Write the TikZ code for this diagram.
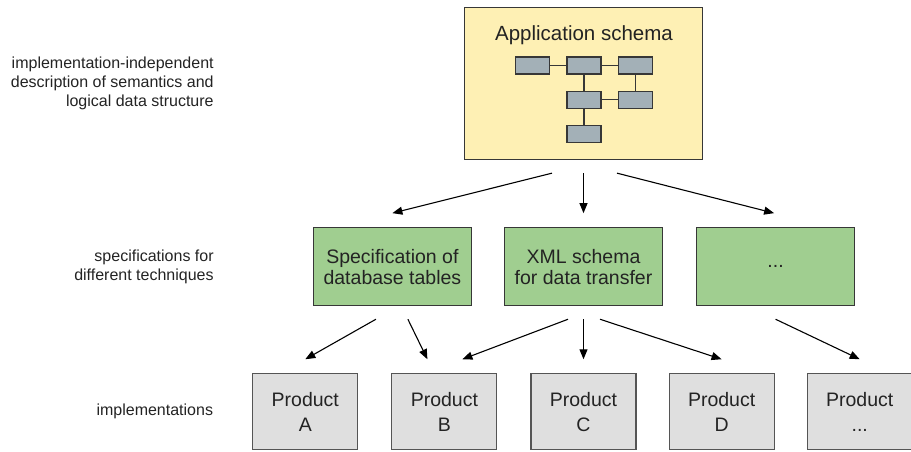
\documentclass[tikz,border=0pt]{standalone}
\usepackage{fontspec}
\setmainfont{Liberation Sans}
\usetikzlibrary{positioning, arrows.meta}
\definecolor{schemayellow}{RGB}{254,240,180}
\definecolor{specgreen}{RGB}{160,206,144}
\definecolor{prodgray}{RGB}{223,223,223}
\definecolor{tblblue}{RGB}{163,176,183}
\definecolor{edgegray}{RGB}{55,55,55}
\definecolor{txtgray}{RGB}{35,35,35}
\tikzset{
    appbox/.style={draw=edgegray, line width=1.3pt, fill=schemayellow,
      minimum width=238pt, minimum height=152pt, inner sep=0pt},
    specbox/.style={draw=edgegray, line width=1.1pt, fill=specgreen,
      minimum width=158pt, minimum height=78pt, inner sep=0pt, align=center,
      text=txtgray, font=\fontsize{19.5}{21}\selectfont},
    prodbox/.style={draw=edgegray!85, line width=1.1pt, fill=prodgray,
      minimum width=105pt, minimum height=76pt, inner sep=0pt, align=center,
      text=txtgray, font=\fontsize{19.5}{25}\selectfont},
    tbl/.style={draw=edgegray, line width=1.1pt, fill=tblblue,
      minimum width=34pt, minimum height=17pt, inner sep=0pt},
    lbl/.style={align=right, inner sep=0pt, text=txtgray,
      font=\fontsize{16}{19}\selectfont},
    conn/.style={-{Triangle[length=10pt,width=8pt]}, line width=1.1pt},
}

\begin{document}
\begin{tikzpicture}[x=1pt, y=-1pt]
    \useasboundingbox (0,0) rectangle (911,452);

    % schema on top
    \node[appbox] (app) at (583.5,83.5) {};
    \node[anchor=base, text=txtgray, font=\fontsize{20.5}{24}\selectfont] (title) at (584,40.5) {Application schema};

    \node[tbl] (t2) at (584,65.5) {};
    \node[tbl, left=16pt of t2] (t1) {};
    \node[tbl, right=16pt of t2] (t3) {};
    \node[tbl, below=16pt of t2] (t4) {};
    \node[tbl, right=16pt of t4] (t5) {};
    \node[tbl, below=16pt of t4] (t6) {};

    \draw[line width=1.1pt, edgegray] (t1) -- (t2) (t2) -- (t3) (t2) -- (t4)
      (t3) -- (t5) (t4) -- (t5) (t4) -- (t6);

    % specifications
    \node[specbox, below=67pt of app] (xml) {XML schema\\for data transfer};
    \node[specbox, left=32pt of xml] (dbspec) {Specification of\\database tables};
    \node[specbox, right=33pt of xml] (other) {...};

    % implementations
    \node[prodbox, below=67pt of xml] (prodC) {Product\\C};
    \node[prodbox, left=33pt of prodC] (prodB) {Product\\B};
    \node[prodbox, left=33pt of prodB] (prodA) {Product\\A};
    \node[prodbox, right=32pt of prodC] (prodD) {Product\\D};
    \node[prodbox, right=32pt of prodD] (prodE) {Product\\...};

    % level labels
    \node[lbl, left=250pt of app] (lblapp) {implementation-independent\\description of semantics and\\logical data structure};
    \node[lbl, left=99pt of dbspec] (lblspec) {specifications for\\different techniques};
    \node[lbl, left=39pt of prodA] (lblprod) {implementations};

    \draw[conn] ([xshift=-31.5pt,yshift=-13pt]app.south) -- ([yshift=14pt]dbspec.north);
    \draw[conn] ([yshift=-13pt]app.south) -- ([yshift=14pt]xml.north);
    \draw[conn] ([xshift=33.5pt,yshift=-13pt]app.south) -- ([xshift=-1.5pt,yshift=14pt]other.north);

    \draw[conn] ([xshift=-16.5pt,yshift=-13pt]dbspec.south) -- ([yshift=14pt]prodA.north);
    \draw[conn] ([xshift=15.5pt,yshift=-13pt]dbspec.south) -- ([xshift=-17pt,yshift=14pt]prodB.north);
    \draw[conn] ([xshift=-15.5pt,yshift=-13pt]xml.south) -- ([xshift=18pt,yshift=14pt]prodB.north);
    \draw[conn] ([yshift=-13pt]xml.south) -- ([yshift=14pt]prodC.north);
    \draw[conn] ([xshift=16.5pt,yshift=-13pt]xml.south) -- ([yshift=14pt]prodD.north);
    \draw[conn] ([yshift=-13pt]other.south) -- ([yshift=14pt]prodE.north);
\end{tikzpicture}
\end{document}
